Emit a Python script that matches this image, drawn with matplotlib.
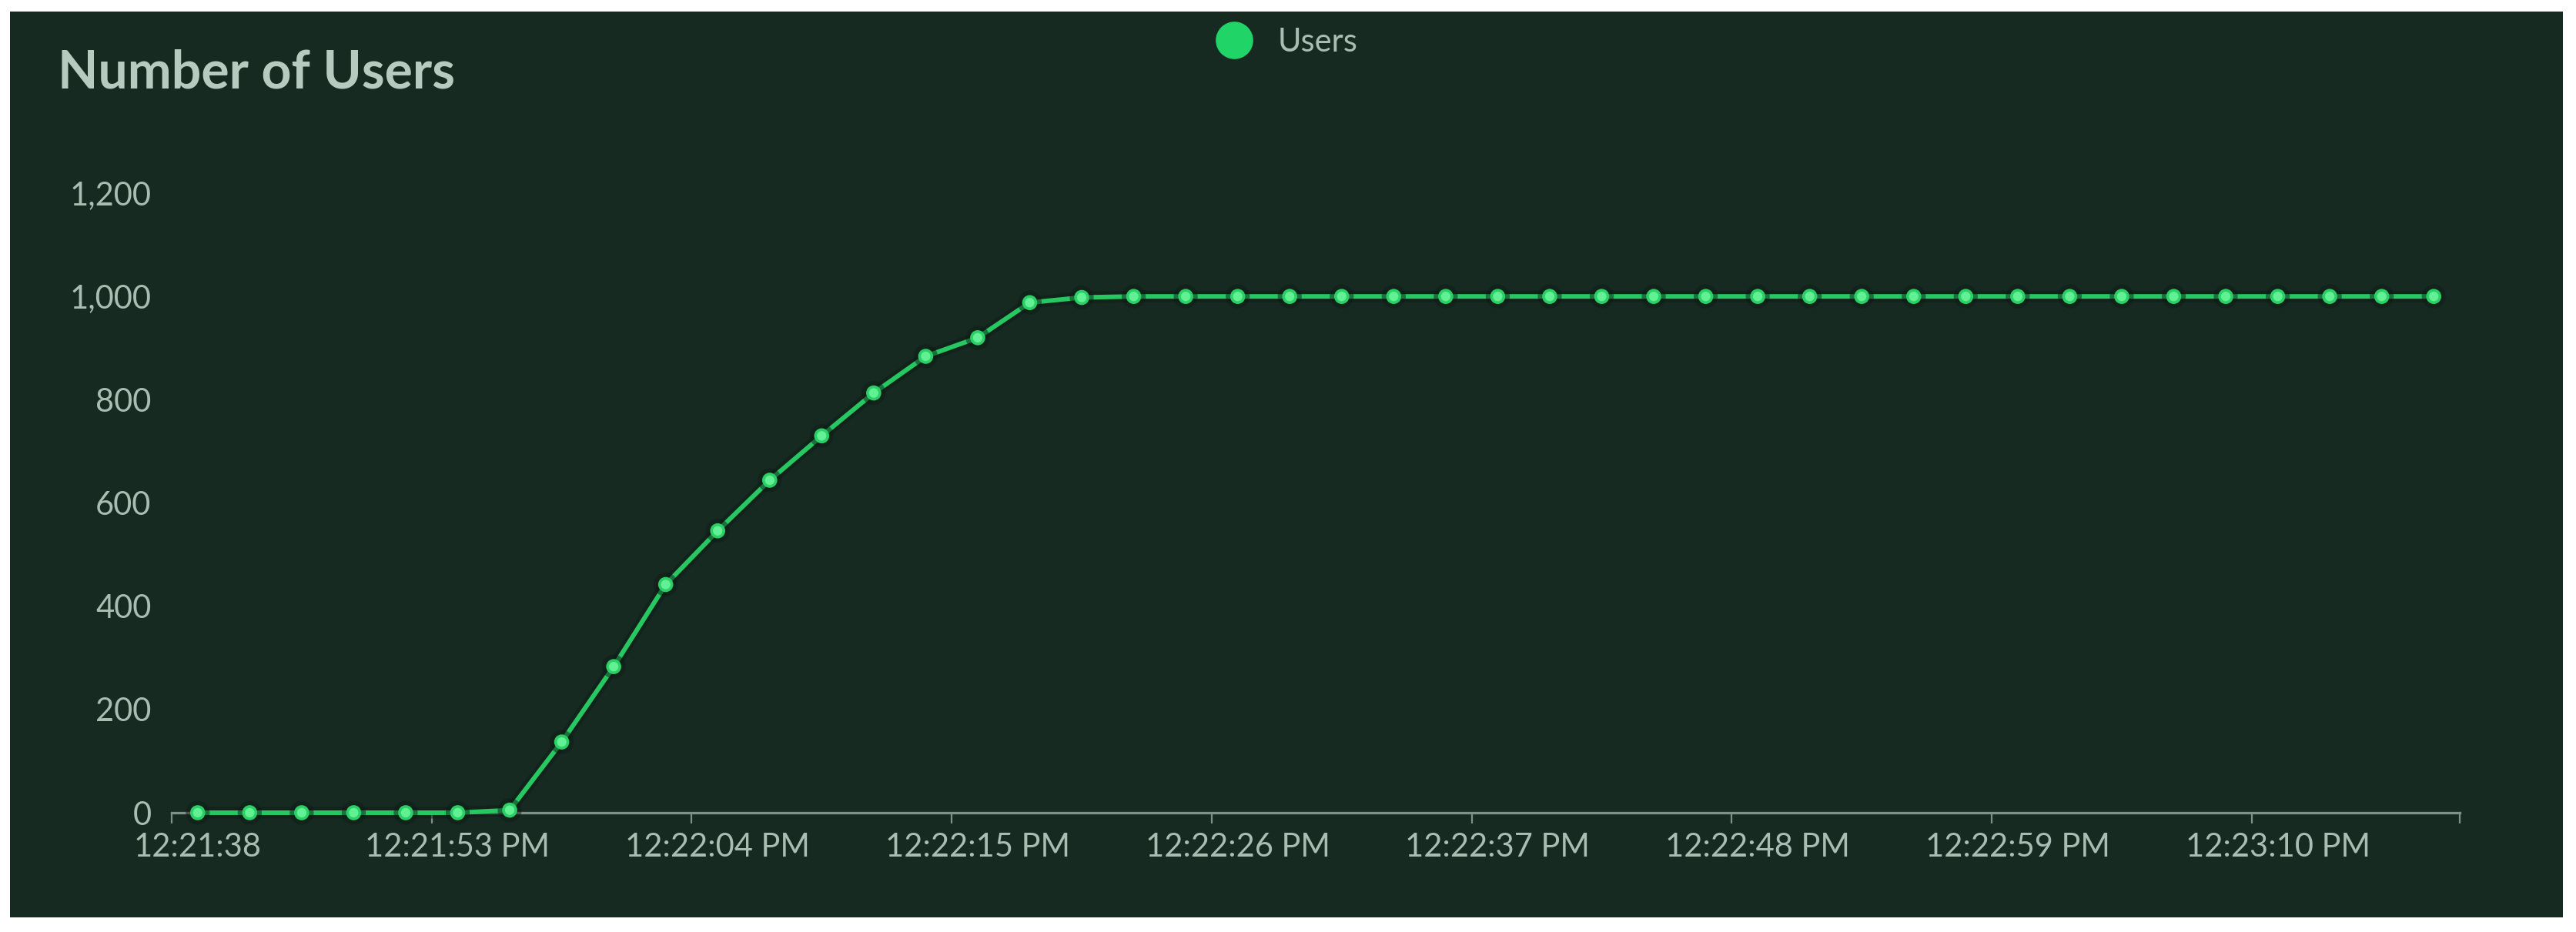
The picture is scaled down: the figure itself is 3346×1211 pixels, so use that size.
import matplotlib
matplotlib.use("Agg")
import matplotlib.pyplot as plt
from matplotlib.lines import Line2D
from matplotlib.patches import Rectangle
from matplotlib.ticker import FixedLocator, FuncFormatter
import matplotlib.patheffects as pe

# ---- data ----
users = [0, 0, 0, 0, 0, 0, 5, 137, 283, 442, 546, 644, 730, 813, 884, 920,
         988, 998, 1000, 1000, 1000, 1000, 1000, 1000, 1000, 1000, 1000, 1000,
         1000, 1000, 1000, 1000, 1000, 1000, 1000, 1000, 1000, 1000, 1000, 1000,
         1000, 1000, 1000, 1000]
tick_labels = ["12:21:38", "12:21:53 PM", "12:22:04 PM", "12:22:15 PM",
               "12:22:26 PM", "12:22:37 PM", "12:22:48 PM", "12:22:59 PM",
               "12:23:10 PM"]
label_step = 5
y_ticks = [0, 200, 400, 600, 800, 1000, 1200]
series_name = "Users"
title = "Number of Users"

BG = "#172a22"
LINE = "#27c762"
TEXT = "#a9bdb3"
TITLE = "#b6cabf"
AXIS = "#7f9088"

W, H, DPI = 3346, 1211, 100
fig = plt.figure(figsize=(W / DPI, H / DPI), dpi=DPI, facecolor="white")
fig.patches.append(Rectangle((13 / W, 1 - 1192 / H), (3329 - 13) / W, (1192 - 15) / H,
                             transform=fig.transFigure, facecolor=BG, edgecolor="none",
                             zorder=-10))

ax = fig.add_axes([223 / W, 1 - 1056 / H, (3195 - 223) / W, (1056 - 251) / H])
ax.set_facecolor("none")
ax.set_zorder(1)

x = list(range(len(users)))
ax.plot(x, users, color=LINE, lw=4.3, marker="o", markersize=11.5,
        markerfacecolor="#62f094", markeredgecolor="#2bcf66", markeredgewidth=2.6,
        clip_on=False, zorder=5,
        path_effects=[pe.Stroke(linewidth=11, foreground="#0d1d15", alpha=0.5), pe.Normal()])

n = len(users)
ax.set_xlim(-0.5, n - 0.5)
ax.set_ylim(0, 1200)

# major ticks: labels at every 5th category (no tick marks)
ax.xaxis.set_major_locator(FixedLocator([i * label_step for i in range(len(tick_labels))]))
ax.xaxis.set_major_formatter(FuncFormatter(
    lambda v, p: tick_labels[int(round(v)) // label_step] if int(round(v)) // label_step < len(tick_labels) else ""))
# minor ticks at category boundaries
bounds = [i * label_step - 0.5 for i in range(len(tick_labels))] + [n - 0.5]
ax.xaxis.set_minor_locator(FixedLocator(bounds))
ax.tick_params(axis="x", which="major", length=0, pad=19, labelsize=30, labelcolor=TEXT)
ax.tick_params(axis="x", which="minor", length=10, width=1.6, color=AXIS, direction="out")

ax.set_yticks(y_ticks)
ax.yaxis.set_major_formatter(FuncFormatter(lambda v, p: f"{int(v):,}"))
ax.tick_params(axis="y", length=0, pad=19, labelsize=30, labelcolor=TEXT)

for s in ["top", "right", "left"]:
    ax.spines[s].set_visible(False)
ax.spines["bottom"].set_color(AXIS)
ax.spines["bottom"].set_linewidth(2.4)

for lab in ax.get_xticklabels() + ax.get_yticklabels():
    lab.set_fontfamily("Lato")

fig.text(75 / W, 1 - 95 / H, title, fontsize=49, fontweight="bold", color=TITLE,
         family="Lato", ha="left", va="center")

handle = Line2D([], [], ls="", marker="o", markersize=34, color="#20d468")
leg = fig.legend([handle], [series_name], loc="center left",
                 bbox_to_anchor=(1580 / W, 1 - 55 / H), frameon=False,
                 borderpad=0, borderaxespad=0, handlelength=1.1, handletextpad=0.8,
                 prop={"family": "Lato", "size": 30})
for t in leg.get_texts():
    t.set_color(TEXT)

fig.savefig("out.png", dpi=DPI, facecolor="white")
